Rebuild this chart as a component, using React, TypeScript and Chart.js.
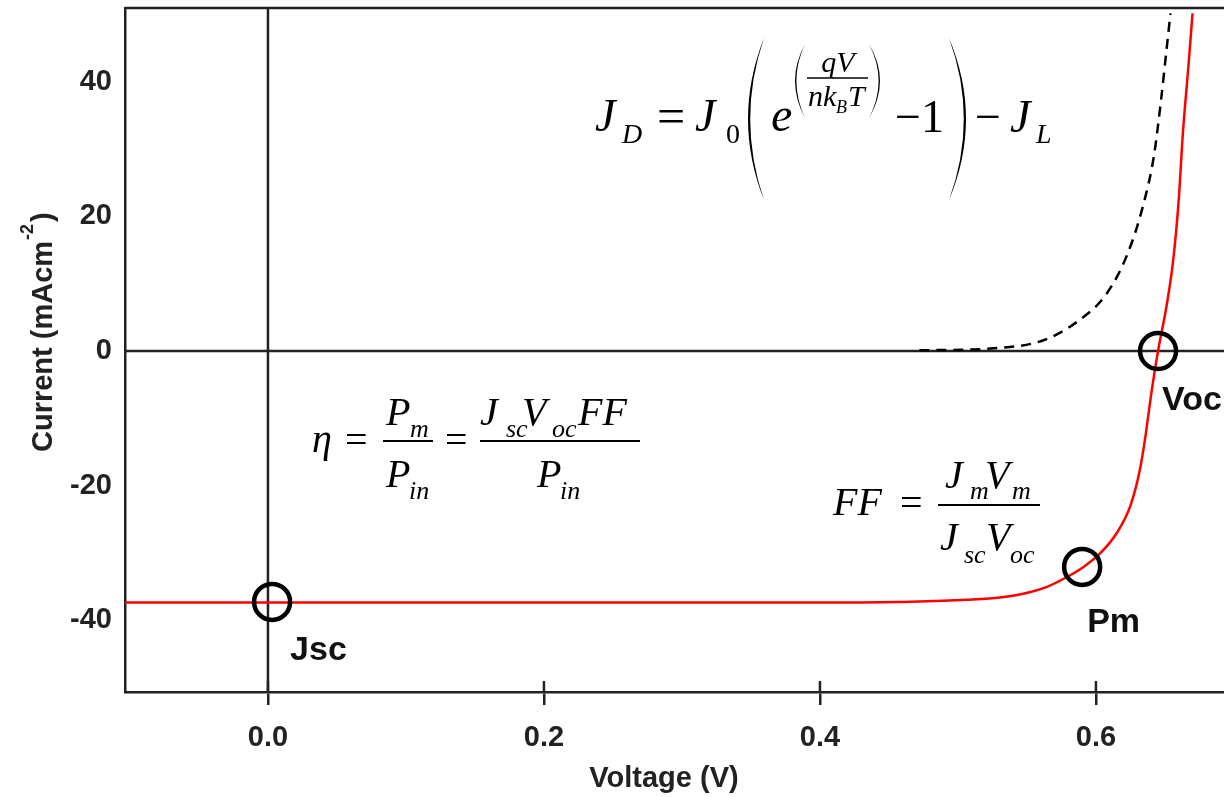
import React, { useEffect, useRef } from "react";
import { Chart, registerables } from "chart.js";

Chart.register(...registerables);

// ---- data ----
const lightVoltage = [-0.1036, 0.0, 0.2, 0.4, 0.456, 0.506, 0.542, 0.564, 0.579, 0.591, 0.603, 0.615, 0.625, 0.632, 0.636, 0.64, 0.645, 0.651, 0.656, 0.66, 0.663, 0.667, 0.67];
const lightCurrent = [-37.4, -37.4, -37.4, -37.4, -37.3, -37.0, -36.3, -35.1, -33.6, -32.1, -30.1, -27.1, -23.0, -17.5, -12.5, -6.5, 0.0, 6.5, 13.5, 22.5, 32.4, 42.3, 50.2];

const darkVoltage = [0.472, 0.526, 0.562, 0.588, 0.608, 0.623, 0.634, 0.642, 0.647, 0.651, 0.654];
const darkCurrent = [0.1, 0.4, 1.6, 4.6, 8.6, 14.5, 21.5, 29.0, 37.0, 44.5, 50.2];

const markerVoltage = [0.003, 0.59, 0.645];
const markerCurrent = [-37.3, -32.1, 0.0];
const markerLabels = ["Jsc", "Pm", "Voc"];

const xTickValues = [0.0, 0.2, 0.4, 0.6];
const yTickValues = [-40, -20, 0, 20, 40];

const xAxisTitle = "Voltage (V)";
const yAxisTitle = "Current (mAcm";
const yAxisTitleSup = "-2";

const X_MIN = -0.1036;
const X_MAX = 0.6928;
const Y_MIN = -50.7;
const Y_MAX = 51.0;

const SANS = '"Liberation Sans", Arial, Helvetica, sans-serif';
const SERIF = '"Liberation Serif", "Times New Roman", Times, serif';
const AXIS_COLOR = "#222";

function txt(ctx: CanvasRenderingContext2D, s: string, x: number, y: number, size: number, italic = true, align: CanvasTextAlign = "left") {
  ctx.font = `${italic ? "italic " : ""}${size}px ${SERIF}`;
  ctx.textAlign = align;
  ctx.textBaseline = "alphabetic";
  ctx.fillText(s, x, y);
}

function paren(ctx: CanvasRenderingContext2D, xTip: number, xBulge: number, yTop: number, yBot: number, thick: number) {
  const cx = 2 * xBulge - xTip;
  const mid = (yTop + yBot) / 2;
  const dir = Math.sign(xTip - xBulge);
  ctx.beginPath();
  ctx.moveTo(xTip, yTop);
  ctx.quadraticCurveTo(cx, mid, xTip, yBot);
  ctx.quadraticCurveTo(cx + dir * 2 * thick, mid, xTip, yTop);
  ctx.closePath();
  ctx.fill();
}

function hline(ctx: CanvasRenderingContext2D, x1: number, x2: number, y: number, w = 2) {
  ctx.beginPath();
  ctx.lineWidth = w;
  ctx.moveTo(x1, y);
  ctx.lineTo(x2, y);
  ctx.stroke();
}

function zeroPadding(s: any) {
  s.paddingTop = 0;
  s.paddingBottom = 0;
  s.paddingLeft = 0;
  s.paddingRight = 0;
}

const decorPlugin = {
  id: "decor",
  beforeDatasetsDraw(chart: any) {
    const { ctx, chartArea, scales } = chart;
    const x = scales.x;
    const y = scales.y;
    ctx.save();
    ctx.strokeStyle = AXIS_COLOR;
    ctx.lineWidth = 2.5;
    // top frame line
    ctx.beginPath();
    ctx.moveTo(chartArea.left, chartArea.top);
    ctx.lineTo(chartArea.right, chartArea.top);
    ctx.stroke();
    // zero lines
    const x0 = x.getPixelForValue(0);
    const y0 = y.getPixelForValue(0);
    ctx.beginPath();
    ctx.moveTo(x0, chartArea.top);
    ctx.lineTo(x0, chartArea.bottom);
    ctx.moveTo(chartArea.left, y0);
    ctx.lineTo(chartArea.right, y0);
    ctx.stroke();
    // inner tick marks on the x axis
    ctx.beginPath();
    for (const v of xTickValues) {
      const px = x.getPixelForValue(v);
      ctx.moveTo(px, chartArea.bottom);
      ctx.lineTo(px, chartArea.bottom - 11);
    }
    ctx.stroke();
    ctx.restore();
  },
  afterDatasetsDraw(chart: any) {
    const { ctx, scales } = chart;
    const x = scales.x;
    const y = scales.y;
    ctx.save();
    // marker labels
    const offsets = [
      [18, 58],
      [5, 65],
      [4, 59],
    ];
    ctx.fillStyle = "#111";
    ctx.font = `bold 34px ${SANS}`;
    ctx.textAlign = "left";
    ctx.textBaseline = "alphabetic";
    markerLabels.forEach((lab, i) => {
      const px = x.getPixelForValue(markerVoltage[i]);
      const py = y.getPixelForValue(markerCurrent[i]);
      ctx.fillText(lab, px + offsets[i][0], py + offsets[i][1]);
    });

    // axis titles
    ctx.fillStyle = AXIS_COLOR;
    ctx.font = `bold 29px ${SANS}`;
    ctx.textAlign = "center";
    ctx.fillText(xAxisTitle, 664, 787);

    ctx.save();
    ctx.translate(52, 452);
    ctx.rotate(-Math.PI / 2);
    ctx.textAlign = "left";
    ctx.font = `bold 29px ${SANS}`;
    ctx.fillText(yAxisTitle, 0, 0);
    const w1 = ctx.measureText(yAxisTitle).width;
    ctx.font = `bold 18px ${SANS}`;
    ctx.fillText(yAxisTitleSup, w1 + 1, -19);
    const w2 = ctx.measureText(yAxisTitleSup).width;
    ctx.font = `bold 29px ${SANS}`;
    ctx.fillText(")", w1 + w2 + 3, 0);
    ctx.restore();

    // ---- formulas ----
    ctx.fillStyle = "#000";
    ctx.strokeStyle = "#000";
    // J_D = J_0 ( e^(qV/nk_BT) - 1 ) - J_L
    txt(ctx, "J", 595, 131, 46);
    txt(ctx, "D", 622, 143, 28);
    txt(ctx, "=", 657, 133, 50, false);
    txt(ctx, "J", 695, 131, 46);
    txt(ctx, "0", 726, 143, 28, false);
    paren(ctx, 764, 748, 38, 200, 2.2);
    txt(ctx, "e", 771, 131, 48);
    paren(ctx, 805, 795, 44, 118, 1.4);
    txt(ctx, "qV", 838, 72, 30, true, "center");
    hline(ctx, 807, 868, 78, 1.5);
    txt(ctx, "nk", 808, 106, 30);
    txt(ctx, "B", 836, 113, 18);
    txt(ctx, "T", 848, 106, 30);
    paren(ctx, 869, 880, 44, 118, 1.4);
    txt(ctx, "\u22121", 895, 132, 46, false);
    paren(ctx, 949, 966, 38, 200, 2.2);
    txt(ctx, "\u2212", 975, 132, 46, false);
    txt(ctx, "J", 1010, 132, 46);
    txt(ctx, "L", 1036, 143, 28);

    // eta = P_m / P_in = J_sc V_oc FF / P_in
    txt(ctx, "\u03B7", 312, 452, 40);
    txt(ctx, "=", 345, 453, 40, false);
    hline(ctx, 383, 433, 441, 2);
    txt(ctx, "P", 386, 425, 40);
    txt(ctx, "m", 410, 437, 26);
    txt(ctx, "P", 386, 487, 40);
    txt(ctx, "in", 409, 499, 26);
    txt(ctx, "=", 445, 453, 40, false);
    hline(ctx, 480, 640, 441, 2);
    txt(ctx, "J", 480, 425, 40);
    txt(ctx, "sc", 506, 437, 26);
    txt(ctx, "V", 522, 425, 40);
    txt(ctx, "oc", 552, 437, 26);
    txt(ctx, "FF", 578, 425, 40);
    txt(ctx, "P", 537, 487, 40);
    txt(ctx, "in", 560, 499, 26);

    // FF = J_m V_m / J_sc V_oc
    txt(ctx, "FF", 833, 515, 40);
    txt(ctx, "=", 900, 516, 40, false);
    hline(ctx, 938, 1040, 505, 2);
    txt(ctx, "J", 945, 488, 40);
    txt(ctx, "m", 970, 499, 26);
    txt(ctx, "V", 985, 488, 40);
    txt(ctx, "m", 1012, 499, 26);
    txt(ctx, "J", 940, 550, 40);
    txt(ctx, "sc", 964, 563, 26);
    txt(ctx, "V", 986, 550, 40);
    txt(ctx, "oc", 1010, 563, 26);

    ctx.restore();
  },
};

export default function App() {
  const canvasRef = useRef<HTMLCanvasElement | null>(null);

  useEffect(() => {
    document.body.style.margin = "0";
    const canvas = canvasRef.current;
    if (!canvas) return;

    const toPts = (xs: number[], ys: number[]) => xs.map((v, i) => ({ x: v, y: ys[i] }));

    const chart = new Chart(canvas, {
      type: "scatter",
      data: {
        datasets: [
          {
            label: "markers",
            data: toPts(markerVoltage, markerCurrent),
            showLine: false,
            pointStyle: "circle",
            pointRadius: 18,
            pointHoverRadius: 18,
            pointBorderWidth: 4.5,
            borderWidth: 4.5,
            borderColor: "#000",
            pointBorderColor: "#000",
            backgroundColor: "rgba(0,0,0,0)",
            pointBackgroundColor: "rgba(0,0,0,0)",
          } as any,
          {
            label: "light",
            data: toPts(lightVoltage, lightCurrent),
            showLine: true,
            borderColor: "#ff0000",
            borderWidth: 2.5,
            pointRadius: 0,
            cubicInterpolationMode: "monotone",
          } as any,
          {
            label: "dark",
            data: toPts(darkVoltage, darkCurrent),
            showLine: true,
            borderColor: "#000",
            borderWidth: 2.5,
            borderDash: [10, 7],
            pointRadius: 0,
            cubicInterpolationMode: "monotone",
          } as any,
        ],
      },
      options: {
        responsive: false,
        animation: false,
        events: [],
        layout: { autoPadding: false, padding: { top: 8, left: 0, right: 0, bottom: 0 } },
        plugins: {
          legend: { display: false },
          tooltip: { enabled: false },
          title: { display: false },
        },
        scales: {
          x: {
            type: "linear",
            min: X_MIN,
            max: X_MAX,
            afterBuildTicks: (s: any) => {
              s.ticks = xTickValues.map((v) => ({ value: v }));
            },
            afterFit: (s: any) => {
              s.height = 105;
              zeroPadding(s);
            },
            grid: {
              display: true,
              drawOnChartArea: false,
              drawTicks: true,
              tickLength: 13,
              color: AXIS_COLOR,
              lineWidth: 2.5,
            },
            border: { display: true, color: AXIS_COLOR, width: 2.5 },
            ticks: {
              autoSkip: false,
              maxRotation: 0,
              padding: 16,
              color: AXIS_COLOR,
              font: { family: SANS, size: 29, weight: "bold" },
              callback: (v: any) => Number(v).toFixed(1),
            },
          },
          y: {
            type: "linear",
            min: Y_MIN,
            max: Y_MAX,
            afterBuildTicks: (s: any) => {
              s.ticks = yTickValues.map((v) => ({ value: v }));
            },
            afterFit: (s: any) => {
              s.width = 125;
              zeroPadding(s);
            },
            grid: { display: false, drawTicks: false },
            border: { display: true, color: AXIS_COLOR, width: 2.5 },
            ticks: {
              autoSkip: false,
              padding: 13,
              color: AXIS_COLOR,
              font: { family: SANS, size: 29, weight: "bold" },
              callback: (v: any) => String(v),
            },
          },
        },
      } as any,
      plugins: [decorPlugin],
    });

    return () => {
      chart.destroy();
    };
  }, []);

  return (
    <div style={{ position: "absolute", left: 0, top: 0, width: 1224, height: 797, background: "#fff" }}>
      <canvas ref={canvasRef} width={1224} height={797} style={{ display: "block" }} />
    </div>
  );
}
